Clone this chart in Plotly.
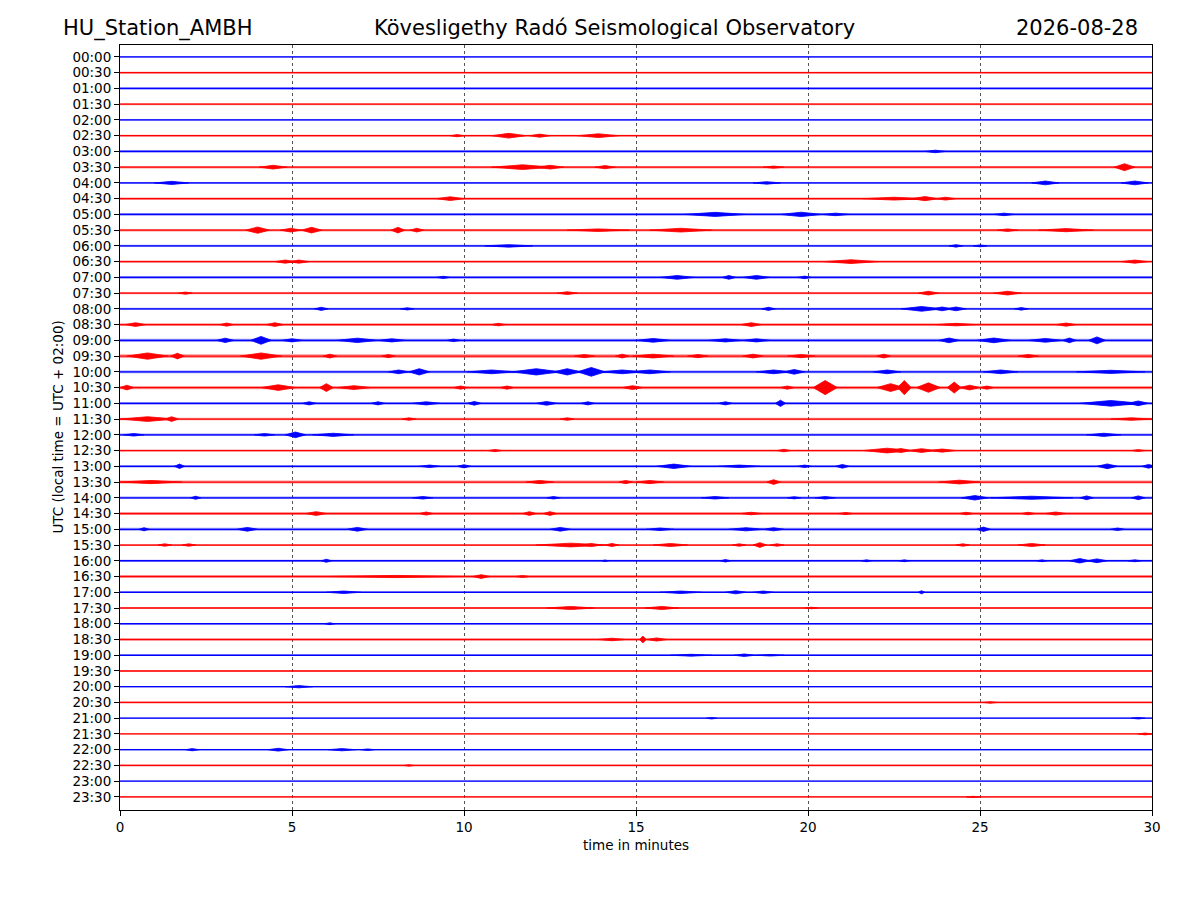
import plotly.graph_objects as go

# Helicorder: 48 half-hour lines, 30 minutes each
row_labels = ["%02d:%02d" % (h, m) for h in range(24) for m in (0, 30)]

# background noise half-width of each line (in line-spacing units)
noise_level = [
    0.04, 0.05, 0.06, 0.05, 0.04, 0.05, 0.07, 0.06, 0.05, 0.06, 0.07, 0.06,
    0.05, 0.06, 0.07, 0.06, 0.06, 0.07, 0.08, 0.09, 0.07, 0.08, 0.07, 0.06,
    0.06, 0.05, 0.06, 0.07, 0.06, 0.07, 0.07, 0.05, 0.05, 0.06, 0.04, 0.04,
    0.04, 0.05, 0.04, 0.03, 0.04, 0.05, 0.04, 0.03, 0.04, 0.05, 0.03, 0.04,
]

# visible bursts per line: (minute of peak, half-width in minutes, half-amplitude)
bursts = [
    [],                                                            # 00:00
    [],                                                            # 00:30
    [],                                                            # 01:00
    [],                                                            # 01:30
    [],                                                            # 02:00
    [(9.8, 0.2, 0.07), (11.3, 0.5, 0.15), (12.2, 0.3, 0.1), (13.9, 0.6, 0.12)],
    [(23.7, 0.3, 0.08)],
    [(4.45, 0.4, 0.12), (11.7, 0.9, 0.15), (12.5, 0.4, 0.12), (14.1, 0.3, 0.1),
     (19.0, 0.3, 0.07), (29.2, 0.3, 0.22)],
    [(1.5, 0.5, 0.1), (18.8, 0.4, 0.08), (26.9, 0.4, 0.12), (29.5, 0.4, 0.12)],
    [(9.6, 0.4, 0.12), (22.5, 0.9, 0.09), (23.4, 0.4, 0.13), (24.0, 0.3, 0.09)],
    [(17.3, 0.9, 0.13), (19.8, 0.6, 0.14), (20.8, 0.4, 0.08), (25.7, 0.3, 0.08)],
    [(4.0, 0.35, 0.2), (4.96, 0.3, 0.12), (5.57, 0.3, 0.18), (8.08, 0.2, 0.18),
     (8.63, 0.2, 0.12), (13.9, 0.9, 0.08), (16.3, 0.9, 0.12), (25.8, 0.3, 0.08),
     (27.5, 0.8, 0.1)],
    [(11.3, 0.7, 0.08), (24.3, 0.2, 0.08), (25.0, 0.2, 0.06)],     # 06:00
    [(4.8, 0.3, 0.1), (5.2, 0.3, 0.1), (21.25, 0.8, 0.12), (29.5, 0.4, 0.1)],
    [(9.4, 0.2, 0.07), (16.2, 0.5, 0.12), (17.7, 0.2, 0.12), (18.5, 0.4, 0.12),
     (19.9, 0.2, 0.08)],
    [(1.9, 0.2, 0.07), (13.0, 0.3, 0.09), (23.5, 0.3, 0.12), (25.8, 0.4, 0.12)],
    [(5.85, 0.2, 0.1), (8.35, 0.2, 0.07), (18.85, 0.2, 0.1), (23.3, 0.6, 0.15),
     (23.9, 0.3, 0.12), (24.3, 0.3, 0.12), (26.2, 0.2, 0.08)],
    [(0.45, 0.3, 0.12), (3.1, 0.2, 0.1), (4.5, 0.25, 0.12), (11.0, 0.2, 0.08),
     (18.35, 0.3, 0.12), (24.3, 0.6, 0.08), (27.5, 0.3, 0.1)],
    [(3.06, 0.25, 0.14), (4.1, 0.3, 0.25), (5.0, 0.3, 0.1), (6.9, 0.6, 0.14),
     (7.9, 0.4, 0.1), (9.7, 0.2, 0.08), (15.5, 0.5, 0.12), (17.6, 0.5, 0.1),
     (18.5, 0.4, 0.1), (24.1, 0.3, 0.15), (25.4, 0.5, 0.15), (26.9, 0.5, 0.12),
     (27.6, 0.2, 0.15), (28.4, 0.25, 0.22)],
    [(0.8, 0.6, 0.2), (1.67, 0.2, 0.18), (4.1, 0.6, 0.2), (6.1, 0.2, 0.12),
     (7.8, 0.2, 0.1), (13.5, 0.3, 0.1), (14.6, 0.2, 0.12), (15.5, 0.6, 0.12),
     (16.8, 0.3, 0.1), (18.4, 0.3, 0.12), (19.8, 0.4, 0.1), (22.2, 0.2, 0.12),
     (26.4, 0.3, 0.1)],
    [(8.1, 0.3, 0.12), (8.7, 0.3, 0.2), (10.8, 0.7, 0.12), (12.1, 0.7, 0.2),
     (13.0, 0.4, 0.2), (13.7, 0.4, 0.28), (14.6, 0.6, 0.12), (15.4, 0.6, 0.12),
     (19.0, 0.5, 0.12), (19.6, 0.3, 0.15), (22.3, 0.4, 0.12), (25.6, 0.5, 0.12),
     (28.8, 1.0, 0.1)],
    [(0.2, 0.2, 0.15), (4.6, 0.5, 0.18), (6.0, 0.2, 0.25), (6.8, 0.5, 0.12),
     (9.9, 0.2, 0.1), (11.25, 0.2, 0.1), (14.9, 0.3, 0.12), (19.4, 0.2, 0.1),
     (20.5, 0.35, 0.45), (22.4, 0.4, 0.25), (22.8, 0.2, 0.45), (23.5, 0.35, 0.3),
     (24.25, 0.2, 0.35), (24.7, 0.3, 0.15), (25.2, 0.2, 0.1)],
    [(5.5, 0.2, 0.1), (7.5, 0.2, 0.1), (8.9, 0.4, 0.1), (10.3, 0.2, 0.12),
     (12.4, 0.3, 0.12), (13.6, 0.2, 0.1), (17.6, 0.2, 0.1), (19.2, 0.15, 0.2),
     (28.8, 0.9, 0.18), (29.6, 0.3, 0.15)],
    [(0.8, 0.8, 0.15), (1.5, 0.2, 0.15), (8.4, 0.2, 0.08), (13.0, 0.2, 0.08),
     (29.4, 0.6, 0.08)],
    [(0.4, 0.3, 0.08), (4.2, 0.3, 0.08), (5.1, 0.3, 0.18), (6.2, 0.6, 0.1),
     (28.6, 0.5, 0.1)],                                            # 12:00
    [(10.9, 0.2, 0.07), (19.3, 0.2, 0.08), (22.3, 0.7, 0.15), (22.7, 0.3, 0.13),
     (23.3, 0.4, 0.12), (23.9, 0.4, 0.1), (29.6, 0.2, 0.06)],
    [(1.73, 0.15, 0.14), (9.0, 0.3, 0.08), (10.0, 0.2, 0.1), (16.1, 0.5, 0.14),
     (18.0, 0.6, 0.08), (19.9, 0.2, 0.08), (21.0, 0.2, 0.12), (28.7, 0.3, 0.15),
     (29.9, 0.2, 0.12)],
    [(0.9, 0.9, 0.1), (12.2, 0.4, 0.1), (14.7, 0.2, 0.1), (15.4, 0.4, 0.1),
     (19.0, 0.2, 0.15), (24.4, 0.6, 0.12)],
    [(2.2, 0.15, 0.1), (8.8, 0.3, 0.08), (12.6, 0.2, 0.08), (17.3, 0.4, 0.08),
     (19.6, 0.2, 0.07), (20.5, 0.3, 0.08), (24.85, 0.4, 0.14), (26.5, 1.2, 0.1),
     (28.1, 0.2, 0.12), (29.6, 0.2, 0.12)],
    [(5.7, 0.3, 0.12), (8.9, 0.2, 0.1), (11.9, 0.2, 0.12), (12.5, 0.2, 0.12),
     (18.35, 0.3, 0.08), (21.1, 0.2, 0.07), (24.6, 0.2, 0.08), (26.4, 0.2, 0.08),
     (27.2, 0.3, 0.1)],
    [(0.7, 0.15, 0.1), (3.7, 0.3, 0.12), (6.9, 0.3, 0.12), (12.8, 0.3, 0.12),
     (15.7, 0.4, 0.08), (18.2, 0.5, 0.1), (19.0, 0.3, 0.1), (25.1, 0.2, 0.14),
     (29.0, 0.2, 0.08)],
    [(1.3, 0.2, 0.08), (2.0, 0.2, 0.08), (13.1, 1.0, 0.12), (13.7, 0.3, 0.1),
     (14.3, 0.2, 0.1), (16.0, 0.5, 0.1), (18.0, 0.2, 0.08), (18.6, 0.2, 0.15),
     (19.1, 0.2, 0.08), (24.5, 0.2, 0.08), (26.5, 0.4, 0.1)],
    [(6.0, 0.15, 0.1), (14.1, 0.1, 0.05), (17.6, 0.15, 0.08), (21.7, 0.15, 0.06),
     (22.8, 0.15, 0.06), (26.8, 0.15, 0.06), (27.9, 0.3, 0.14), (28.4, 0.3, 0.12),
     (29.5, 0.2, 0.06)],
    [(8.0, 2.0, 0.07), (10.5, 0.25, 0.12), (11.7, 0.2, 0.06)],
    [(6.5, 0.5, 0.08), (16.3, 0.6, 0.08), (17.9, 0.3, 0.1), (18.7, 0.3, 0.08),
     (23.3, 0.1, 0.1)],
    [(13.1, 0.7, 0.1), (15.75, 0.5, 0.1), (20.1, 0.2, 0.05)],
    [(6.1, 0.15, 0.06)],                                           # 18:00
    [(14.3, 0.4, 0.08), (15.2, 0.1, 0.22), (15.6, 0.3, 0.1)],
    [(16.6, 0.6, 0.06), (18.15, 0.3, 0.08), (18.9, 0.4, 0.05)],
    [],
    [(5.2, 0.4, 0.07)],
    [(25.3, 0.2, 0.05)],
    [(17.2, 0.15, 0.05), (29.6, 0.2, 0.05)],
    [(29.8, 0.2, 0.06)],
    [(2.1, 0.2, 0.07), (4.6, 0.3, 0.09), (6.45, 0.4, 0.07), (7.2, 0.2, 0.05)],
    [(8.4, 0.15, 0.05)],
    [],
    [(24.8, 0.2, 0.04)],
]

line_colors = ["#0000ff", "#ff0000"]
halo_colors = ["rgba(0,0,255,0.4)", "rgba(255,0,0,0.4)"]

fig = go.Figure()

for i, label in enumerate(row_labels):
    c = line_colors[i % 2]
    h = halo_colors[i % 2]
    base = noise_level[i] * 1.3

    # faint noise band around the line
    fig.add_trace(go.Scatter(
        x=[0, 30, 30, 0, 0], y=[i - base, i - base, i + base, i + base, i - base],
        mode="lines", fill="toself", fillcolor=h, line=dict(width=0),
        hoverinfo="skip", showlegend=False))

    # bursts drawn as spindles
    bx, by = [], []
    for peak, hw, amp in bursts[i]:
        bx += [peak - hw, peak, peak + hw, peak, peak - hw, None]
        by += [i, i - amp, i, i + amp, i, None]
    if bx:
        fig.add_trace(go.Scatter(
            x=bx, y=by, mode="lines", fill="toself", fillcolor=c,
            line=dict(color=c, width=0.8), hoverinfo="skip", showlegend=False))

    # the trace line itself
    fig.add_trace(go.Scatter(
        x=[0, 30], y=[i, i], mode="lines", line=dict(color=c, width=1.3),
        name=label, showlegend=False))

font = dict(family="DejaVu Sans", size=13.5, color="black")
title_font = dict(family="DejaVu Sans", size=21, color="black")

# the page adds an 8 px body margin, so the figure is 8 px smaller and margins shifted
fig.update_layout(
    width=1192, height=892,
    margin=dict(l=112, r=48, t=37, b=90),
    paper_bgcolor="white", plot_bgcolor="white",
    font=font,
    xaxis=dict(
        range=[0, 30], tickvals=[0, 5, 10, 15, 20, 25, 30],
        ticks="outside", ticklen=5, tickcolor="black",
        showline=True, linecolor="black", linewidth=1, mirror=True,
        showgrid=True, gridcolor="#555555", gridwidth=0.5, griddash="dot",
        zeroline=False, tickfont=font,
    ),
    yaxis=dict(
        range=[47.83, -0.76], tickvals=list(range(48)), ticktext=row_labels,
        ticks="outside", ticklen=5, tickcolor="black",
        showline=True, linecolor="black", linewidth=1, mirror=True,
        showgrid=False, zeroline=False, tickfont=font,
    ),
    annotations=[
        dict(text="HU_Station_AMBH", x=-0.0572, y=1.022, xref="paper", yref="paper",
             xanchor="left", yanchor="middle", showarrow=False, font=title_font),
        dict(text="Kövesligethy Radó Seismological Observatory", x=0.4787, y=1.022,
             xref="paper", yref="paper", xanchor="center", yanchor="middle",
             showarrow=False, font=title_font),
        dict(text="2026-08-28", x=0.9884, y=1.022, xref="paper", yref="paper",
             xanchor="right", yanchor="middle", showarrow=False, font=title_font),
        dict(text="UTC (local time = UTC + 02:00)", x=-0.061, y=0.5, xref="paper",
             yref="paper", xanchor="center", yanchor="middle", textangle=-90,
             showarrow=False, font=font),
        dict(text="time in minutes", x=0.5, y=-0.0458, xref="paper", yref="paper",
             xanchor="center", yanchor="middle", showarrow=False, font=font),
    ],
)

fig.write_html("out.html")
